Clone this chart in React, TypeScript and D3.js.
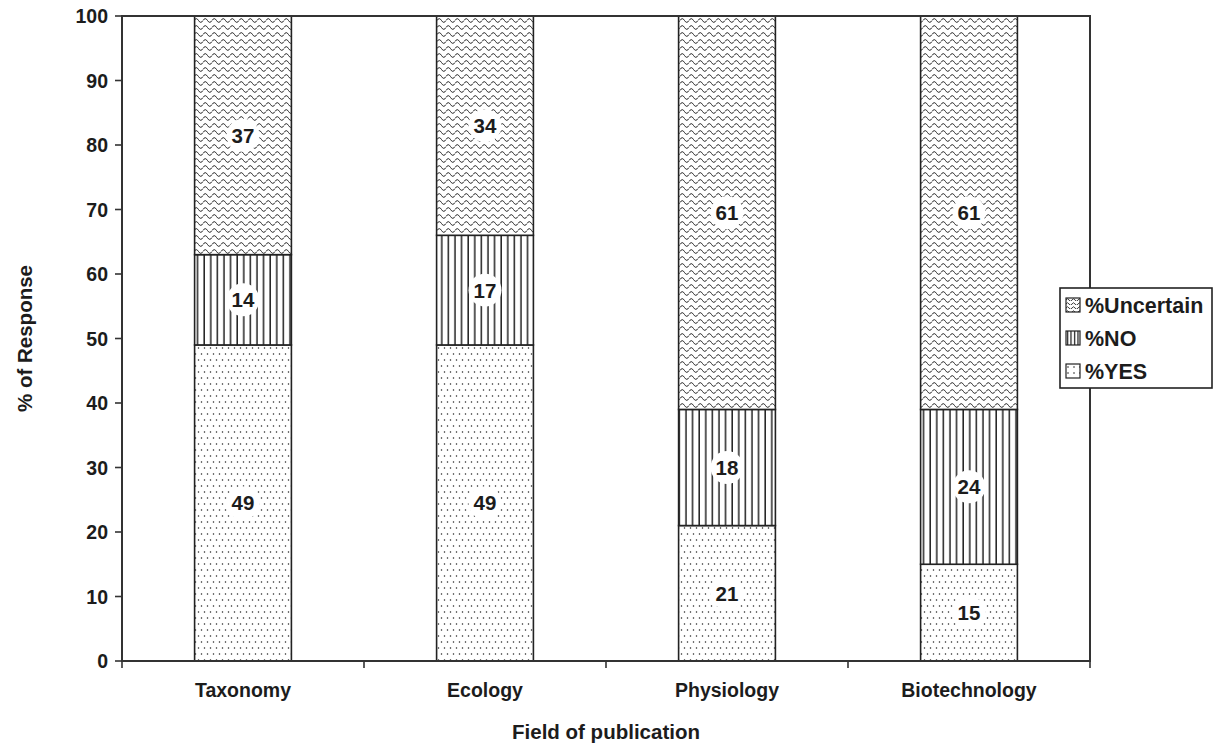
import * as d3 from "d3";

const categories = ["Taxonomy", "Ecology", "Physiology", "Biotechnology"];
const yesValues = [49, 49, 21, 15];
const noValues = [14, 17, 18, 24];
const uncertainValues = [37, 34, 61, 61];
const yTicks = [0, 10, 20, 30, 40, 50, 60, 70, 80, 90, 100];
const seriesNames = ["%YES", "%NO", "%Uncertain"];

const W = 1220;
const H = 747;
const margin = { top: 16, right: 130, bottom: 86, left: 122 };
const FONT = "'Liberation Sans', Arial, sans-serif";
const INK = "#1c1c1c";

export default function App() {
  const plotW = W - margin.left - margin.right;
  const plotH = H - margin.top - margin.bottom;

  const x = d3.scaleBand().domain(categories).range([0, plotW]).paddingInner(0.6).paddingOuter(0.3);
  const band = d3.scaleBand().domain(categories).range([0, plotW]);
  const y = d3.scaleLinear().domain([0, 100]).range([plotH, 0]);

  const rows = categories.map((c, i) => ({ cat: c, "%YES": yesValues[i], "%NO": noValues[i], "%Uncertain": uncertainValues[i] }));
  const stacked = d3.stack<any>().keys(seriesNames)(rows);
  const fills: Record<string, string> = {
    "%YES": "url(#dots)",
    "%NO": "url(#vlines)",
    "%Uncertain": "url(#waves)",
  };

  const legendItems = ["%Uncertain", "%NO", "%YES"];
  const legendFills: Record<string, string> = {
    "%YES": "url(#dotsL)",
    "%NO": "url(#vlinesL)",
    "%Uncertain": "url(#wavesL)",
  };

  return (
    <svg width={W} height={H} style={{ position: "absolute", left: 0, top: 0, background: "#fff" }} fontFamily={FONT}>
      <defs>
        <pattern id="dots" patternUnits="userSpaceOnUse" width="6" height="12">
          <rect width="6" height="12" fill="#fff" />
          <circle cx="1.5" cy="2" r="0.75" fill="#222" />
          <circle cx="4.5" cy="8" r="0.75" fill="#222" />
        </pattern>
        <pattern id="vlines" patternUnits="userSpaceOnUse" width="6.6" height="10">
          <rect width="6.6" height="10" fill="#fff" />
          <line x1="3" y1="0" x2="3" y2="10" stroke="#222" strokeWidth="1.5" />
        </pattern>
        <pattern id="waves" patternUnits="userSpaceOnUse" width="9" height="7">
          <rect width="9" height="7" fill="#fff" />
          <path d="M0,4.5 Q2.25,0.8 4.5,4.5 T9,4.5" fill="none" stroke="#222" strokeWidth="1" />
        </pattern>
        <pattern id="dotsL" patternUnits="userSpaceOnUse" width="6" height="6">
          <rect width="6" height="6" fill="#fff" />
          <circle cx="2" cy="2" r="0.8" fill="#222" />
        </pattern>
        <pattern id="vlinesL" patternUnits="userSpaceOnUse" width="3.5" height="10">
          <rect width="3.5" height="10" fill="#fff" />
          <line x1="1.5" y1="0" x2="1.5" y2="10" stroke="#222" strokeWidth="1.3" />
        </pattern>
        <pattern id="wavesL" patternUnits="userSpaceOnUse" width="6" height="4">
          <rect width="6" height="4" fill="#fff" />
          <path d="M0,3 Q1.5,0.5 3,3 T6,3" fill="none" stroke="#222" strokeWidth="0.9" />
        </pattern>
      </defs>
      <g transform={`translate(${margin.left},${margin.top})`}>
        {/* bars */}
        {stacked.map((s) =>
          s.map((d, i) => (
            <rect
              key={s.key + i}
              x={x(categories[i])}
              y={y(d[1])}
              width={x.bandwidth()}
              height={y(d[0]) - y(d[1])}
              fill={fills[s.key]}
              stroke="#222"
              strokeWidth={1.6}
            />
          ))
        )}
        {/* value labels */}
        {stacked.map((s) =>
          s.map((d, i) => {
            const cx = x(categories[i])! + x.bandwidth() / 2;
            const cy = y((d[0] + d[1]) / 2);
            return (
              <g key={"l" + s.key + i}>
                <ellipse cx={cx} cy={cy} rx={16.5} ry={16.5} fill="#fff" />
                <text x={cx} y={cy} dy="0.36em" textAnchor="middle" fontSize={20.5} fontWeight="bold" fill={INK}>
                  {d[1] - d[0]}
                </text>
              </g>
            );
          })
        )}
        {/* frame */}
        <rect x={0} y={0} width={plotW} height={plotH} fill="none" stroke="#333" strokeWidth={2} />
        {/* y axis ticks */}
        {yTicks.map((t) => (
          <g key={"y" + t} transform={`translate(0,${y(t)})`}>
            <line x1={-7} x2={0} stroke="#333" strokeWidth={1.6} />
            <text x={-14} dy="0.36em" textAnchor="end" fontSize={19.5} fontWeight="bold" fill={INK}>
              {t}
            </text>
          </g>
        ))}
        {/* x axis ticks at band boundaries */}
        {[...categories.map((c) => band(c)!), plotW].map((v, i) => (
          <line key={"xt" + i} x1={v} x2={v} y1={plotH} y2={plotH + 7} stroke="#333" strokeWidth={1.6} />
        ))}
        {categories.map((c) => (
          <text key={"xl" + c} x={band(c)! + band.bandwidth() / 2} y={plotH + 36} textAnchor="middle" fontSize={19.5} fontWeight="bold" fill={INK}>
            {c}
          </text>
        ))}
        <text x={plotW / 2} y={plotH + 78} textAnchor="middle" fontSize={20.5} fontWeight="bold" fill={INK}>
          Field of publication
        </text>
        <text transform={`translate(${-90},${plotH / 2}) rotate(-90)`} textAnchor="middle" fontSize={20.5} fontWeight="bold" fill={INK}>
          % of Response
        </text>
      </g>
      {/* legend */}
      <g transform="translate(1060,288)">
        <rect width={152} height={100} fill="#fff" stroke="#222" strokeWidth={1.6} />
        {legendItems.map((k, i) => (
          <g key={"lg" + k} transform={`translate(6,${17 + i * 33})`}>
            <rect x={0} y={-7} width={14} height={14} fill={legendFills[k]} stroke="#222" strokeWidth={1.2} />
            <text x={19} dy="0.36em" fontSize={21.5} fontWeight="bold" fill={INK}>
              {k}
            </text>
          </g>
        ))}
      </g>
    </svg>
  );
}
